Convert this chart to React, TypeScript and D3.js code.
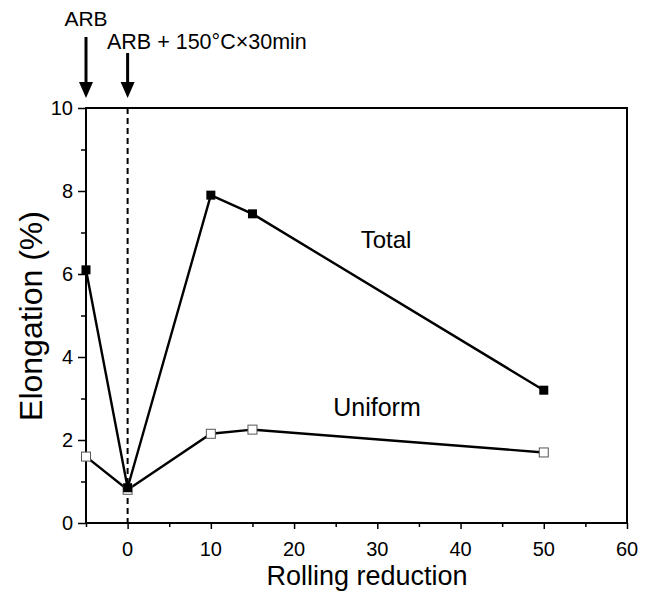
import React, { useEffect, useRef } from "react";
import * as d3 from "d3";

// rolling reduction (%) and elongation (%)
const reductions = [-5, 0, 10, 15, 50];
const totalElong = [6.1, 0.85, 7.9, 7.45, 3.2];
const uniformElong = [1.6, 0.8, 2.15, 2.25, 1.7];
const xTicks = [0, 10, 20, 30, 40, 50, 60];
const yTicks = [0, 2, 4, 6, 8, 10];

const W = 650;
const H = 592;
const FONT = "'Liberation Sans', Arial, sans-serif";

function App() {
  const ref = useRef<SVGSVGElement>(null);

  useEffect(() => {
    const svg = d3.select(ref.current);
    svg.selectAll("*").remove();

    const margin = { top: 108, right: 23, bottom: 69, left: 86 };
    const x = d3.scaleLinear().domain([-5, 60]).range([margin.left, W - margin.right]);
    const y = d3.scaleLinear().domain([0, 10]).range([H - margin.bottom, margin.top]);

    const g = svg.append("g");

    // dashed line at zero reduction
    g.append("line")
      .attr("x1", x(0)).attr("x2", x(0))
      .attr("y1", y(10)).attr("y2", y(0))
      .attr("stroke", "#000")
      .attr("stroke-width", 2)
      .attr("stroke-dasharray", "6,4");

    // frame
    g.append("rect")
      .attr("x", x(-5)).attr("y", y(10))
      .attr("width", x(60) - x(-5)).attr("height", y(0) - y(10))
      .attr("fill", "none").attr("stroke", "#000").attr("stroke-width", 2);

    // x axis: major ticks every 10, minor every 5
    const xAxis = g.append("g").attr("transform", `translate(0,${y(0)})`);
    xAxis.call(d3.axisBottom(x).tickValues(d3.range(-5, 61, 5)).tickSize(4).tickFormat(() => ""));
    xAxis.select(".domain").remove();
    xAxis.selectAll(".tick line")
      .attr("y2", (d: any) => (d % 10 === 0 ? 6 : 4))
      .attr("stroke-width", 1.5);
    xAxis.selectAll("text.lbl")
      .data(xTicks)
      .join("text")
      .attr("x", (d) => x(d))
      .attr("y", 33)
      .attr("fill", "#000")
      .attr("text-anchor", "middle")
      .attr("font-family", FONT)
      .attr("font-size", 20)
      .text((d) => d);

    // y axis
    const yAxis = g.append("g").attr("transform", `translate(${x(-5)},0)`);
    yAxis.call(d3.axisLeft(y).tickValues(d3.range(0, 11, 1)).tickSize(5).tickFormat(() => ""));
    yAxis.select(".domain").remove();
    yAxis.selectAll(".tick line")
      .attr("x2", (d: any) => (d % 2 === 0 ? -8 : -5))
      .attr("stroke-width", 1.5);
    yAxis.selectAll("text.lbl")
      .data(yTicks)
      .join("text")
      .attr("x", -13)
      .attr("y", (d) => y(d) + 7)
      .attr("fill", "#000")
      .attr("text-anchor", "end")
      .attr("font-family", FONT)
      .attr("font-size", 20)
      .text((d) => d);

    const line = d3.line<number>().x((_, i) => x(reductions[i])).y((d) => y(d));

    g.append("path").attr("d", line(uniformElong)).attr("fill", "none").attr("stroke", "#000").attr("stroke-width", 2.4);
    g.append("path").attr("d", line(totalElong)).attr("fill", "none").attr("stroke", "#000").attr("stroke-width", 2.4);

    const s = 9;
    g.selectAll("rect.uni")
      .data(uniformElong)
      .join("rect")
      .attr("x", (_, i) => x(reductions[i]) - s / 2)
      .attr("y", (d) => y(d) - s / 2)
      .attr("width", s).attr("height", s)
      .attr("fill", "#fff").attr("stroke", "#555").attr("stroke-width", 1);
    g.selectAll("rect.tot")
      .data(totalElong)
      .join("rect")
      .attr("x", (_, i) => x(reductions[i]) - s / 2)
      .attr("y", (d) => y(d) - s / 2)
      .attr("width", s).attr("height", s)
      .attr("fill", "#000");

    // series labels
    g.append("text").attr("x", 386).attr("y", 248).attr("text-anchor", "middle")
      .attr("font-family", FONT).attr("font-size", 24).text("Total");
    g.append("text").attr("x", 377).attr("y", 416).attr("text-anchor", "middle")
      .attr("font-family", FONT).attr("font-size", 25).text("Uniform");

    // axis titles
    g.append("text").attr("x", 367).attr("y", 585).attr("text-anchor", "middle")
      .attr("font-family", FONT).attr("font-size", 27).text("Rolling reduction");
    g.append("text")
      .attr("transform", `translate(42,316) rotate(-90)`)
      .attr("text-anchor", "middle")
      .attr("font-family", FONT).attr("font-size", 32).text("Elongation (%)");

    // arrows and annotations
    const arrow = (cx: number, y1: number, y2: number) => {
      g.append("line").attr("x1", cx).attr("x2", cx).attr("y1", y1).attr("y2", y2 - 12)
        .attr("stroke", "#000").attr("stroke-width", 3);
      g.append("path")
        .attr("d", `M${cx - 7},${y2 - 16} L${cx + 7},${y2 - 16} L${cx},${y2} Z`)
        .attr("fill", "#000");
    };
    arrow(x(-5), 37, 98);
    arrow(x(0), 53, 98);
    g.append("text").attr("x", x(-5)).attr("y", 26).attr("text-anchor", "middle")
      .attr("font-family", FONT).attr("font-size", 21).text("ARB");
    g.append("text").attr("x", 107).attr("y", 49)
      .attr("font-family", FONT).attr("font-size", 21.5).text("ARB + 150°C×30min");
  }, []);

  return (
    <svg ref={ref} width={W} height={H} style={{ position: "absolute", left: 0, top: 0, background: "#fff" }} />
  );
}

export default App;
